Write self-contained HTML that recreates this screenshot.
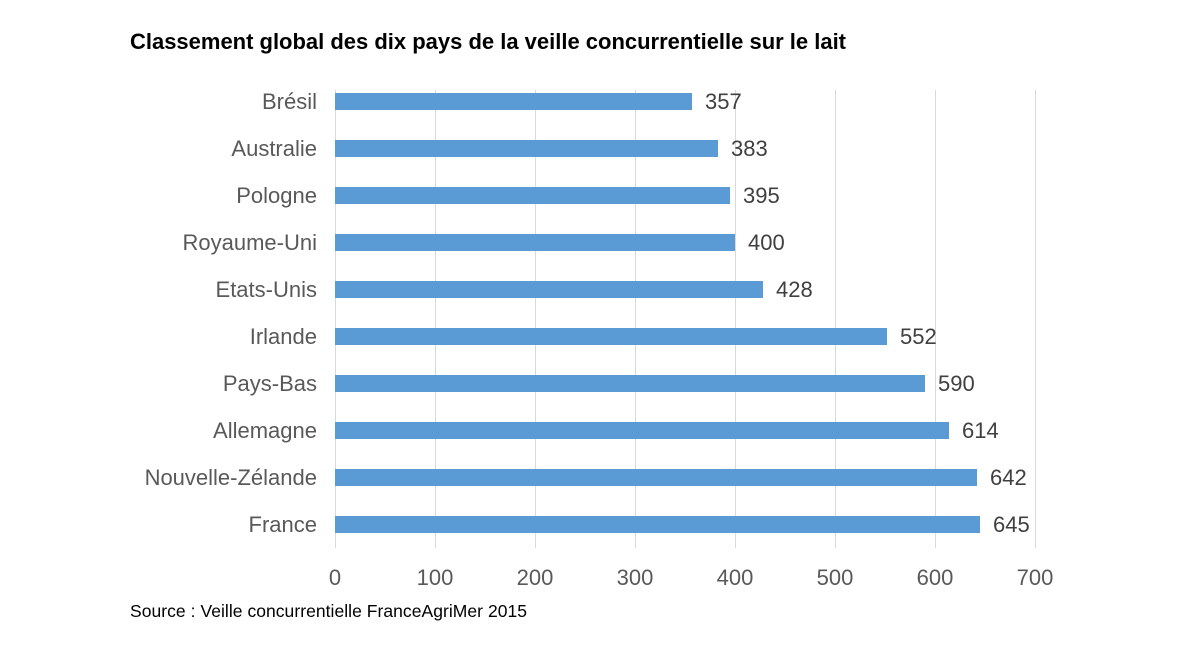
<!DOCTYPE html>
<html><head><meta charset="utf-8"><style>
body{margin:0;background:#fff;}
svg{display:block;font-family:"Liberation Sans",Arial,sans-serif;}
</style></head><body>
<svg width="1200" height="645" viewBox="0 0 1200 645">
<rect width="1200" height="645" fill="#fff"/>
<text x="130" y="49" font-size="22" font-weight="bold" fill="#000" textLength="716" lengthAdjust="spacing">Classement global des dix pays de la veille concurrentielle sur le lait</text>
<g stroke="#d9d9d9" stroke-width="1">
<line x1="335.5" y1="90" x2="335.5" y2="548"/>
<line x1="435.5" y1="90" x2="435.5" y2="548"/>
<line x1="535.5" y1="90" x2="535.5" y2="548"/>
<line x1="635.5" y1="90" x2="635.5" y2="548"/>
<line x1="735.5" y1="90" x2="735.5" y2="548"/>
<line x1="835.5" y1="90" x2="835.5" y2="548"/>
<line x1="935.5" y1="90" x2="935.5" y2="548"/>
<line x1="1035.5" y1="90" x2="1035.5" y2="548"/>
</g>
<g fill="#5b9bd5">
<rect x="335" y="93" width="357" height="17"/>
<rect x="335" y="140" width="383" height="17"/>
<rect x="335" y="187" width="395" height="17"/>
<rect x="335" y="234" width="400" height="17"/>
<rect x="335" y="281" width="428" height="17"/>
<rect x="335" y="328" width="552" height="17"/>
<rect x="335" y="375" width="590" height="17"/>
<rect x="335" y="422" width="614" height="17"/>
<rect x="335" y="469" width="642" height="17"/>
<rect x="335" y="516" width="645" height="17"/>
</g>
<g font-size="22" fill="#404040">
<text x="705" y="109">357</text>
<text x="731" y="156">383</text>
<text x="743" y="203">395</text>
<text x="748" y="250">400</text>
<text x="776" y="297">428</text>
<text x="900" y="344">552</text>
<text x="938" y="391">590</text>
<text x="962" y="438">614</text>
<text x="990" y="485">642</text>
<text x="993" y="532">645</text>
</g>
<g font-size="22" fill="#595959" text-anchor="end">
<text x="317" y="109">Brésil</text>
<text x="317" y="156">Australie</text>
<text x="317" y="203">Pologne</text>
<text x="317" y="250">Royaume-Uni</text>
<text x="317" y="297">Etats-Unis</text>
<text x="317" y="344">Irlande</text>
<text x="317" y="391">Pays-Bas</text>
<text x="317" y="438">Allemagne</text>
<text x="317" y="485">Nouvelle-Zélande</text>
<text x="317" y="532">France</text>
</g>
<g font-size="22" fill="#595959" text-anchor="middle">
<text x="335" y="585">0</text>
<text x="435" y="585">100</text>
<text x="535" y="585">200</text>
<text x="635" y="585">300</text>
<text x="735" y="585">400</text>
<text x="835" y="585">500</text>
<text x="935" y="585">600</text>
<text x="1035" y="585">700</text>
</g>
<text x="130" y="617" font-size="17.5" fill="#000" textLength="397" lengthAdjust="spacing">Source : Veille concurrentielle FranceAgriMer 2015</text>
</svg>
</body></html>
